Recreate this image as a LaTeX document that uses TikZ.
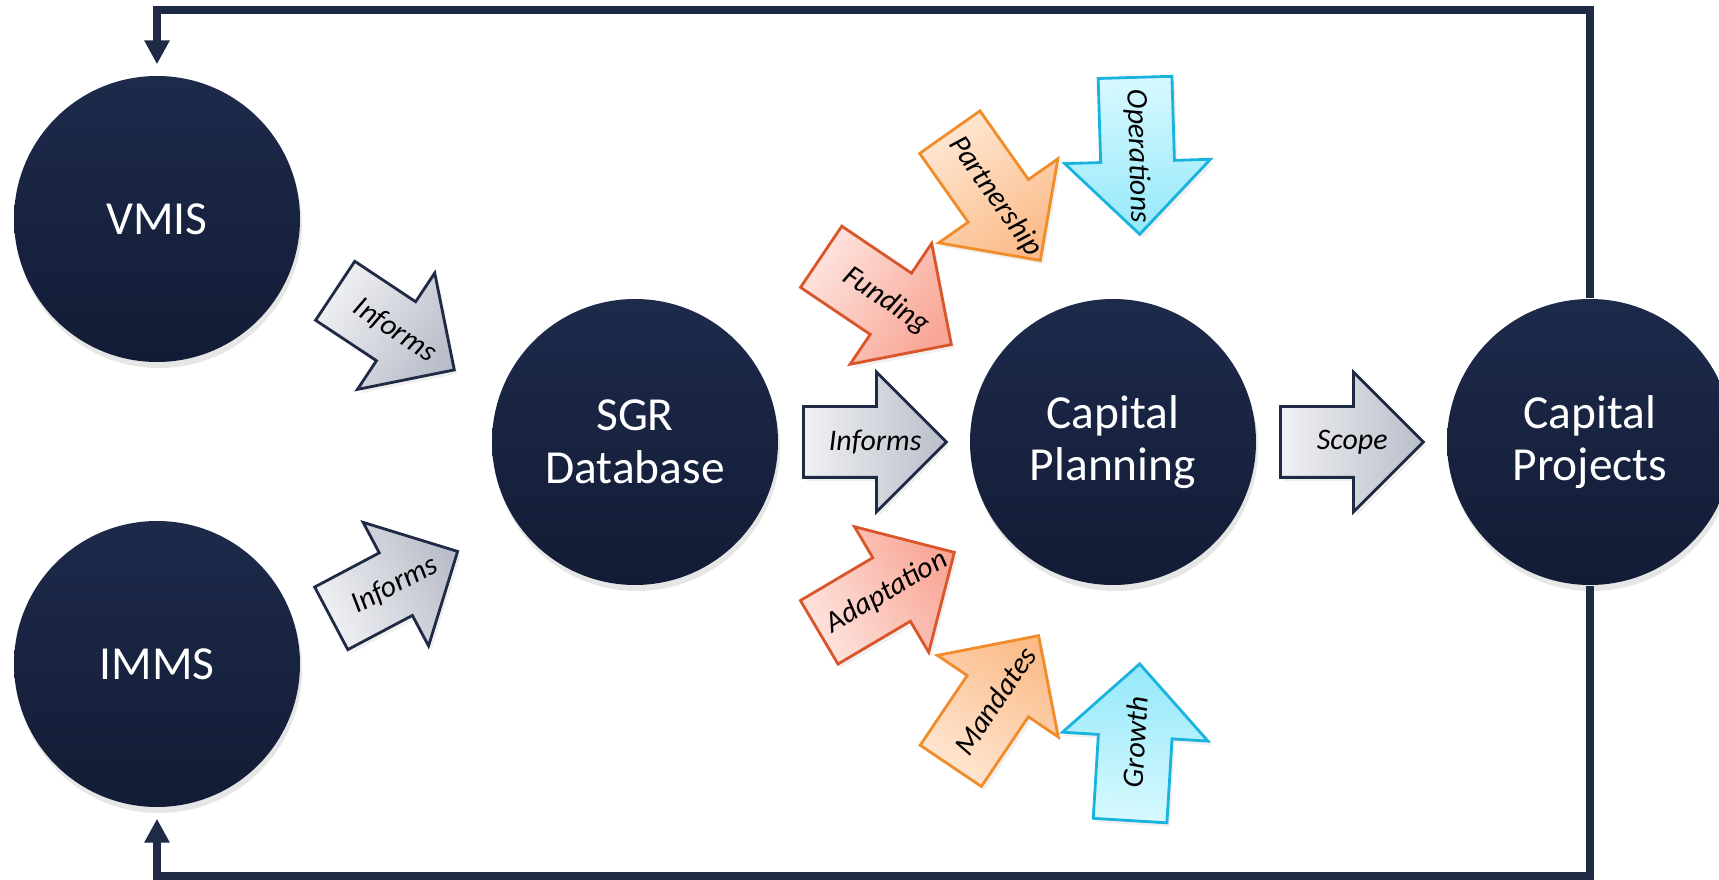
\documentclass[tikz,border=0pt]{standalone}
\usepackage{fontspec}
\setmainfont{Carlito}
\usetikzlibrary{shapes.arrows,arrows.meta,shadows,calc}
\definecolor{navy}{RGB}{29,42,74}
\definecolor{navydeep}{RGB}{19,28,54}
\definecolor{loopline}{RGB}{31,42,68}
\definecolor{greylite}{RGB}{240,241,244}
\definecolor{greydeep}{RGB}{186,190,202}
\definecolor{redline}{RGB}{217,86,43}
\definecolor{redlite}{RGB}{253,228,222}
\definecolor{reddeep}{RGB}{249,166,150}
\definecolor{orgline}{RGB}{240,140,42}
\definecolor{orglite}{RGB}{254,231,211}
\definecolor{orgdeep}{RGB}{251,188,138}
\definecolor{cyanline}{RGB}{25,179,221}
\definecolor{cyanlite}{RGB}{216,249,254}
\definecolor{cyandeep}{RGB}{148,232,250}
\tikzset{
  hub/.style      = {circle, minimum size=2.86cm, inner sep=0pt, align=center,
                     top color=navy, bottom color=navydeep, text=white,
                     font=\fontsize{13.5}{15}\selectfont,
                     drop shadow={opacity=.2, shadow xshift=.2mm, shadow yshift=-.6mm}},
  % block arrows: placed by their tail, text goes on top as a separate tag
  flow/.style     = {single arrow, anchor=tail, inner xsep=0pt, inner ysep=.34cm,
                     text height=0pt, text depth=0pt, minimum width=0pt,
                     minimum height=1.43cm, single arrow head extend=.345cm,
                     draw=loopline, line width=.8pt,
                     left color=greylite, right color=greydeep,
                     drop shadow={opacity=.12, shadow xshift=.3mm, shadow yshift=-.4mm}},
  side/.style     = {flow, inner ysep=.355cm, minimum height=1.57cm,
                     single arrow head extend=.36cm},
  flowred/.style  = {side, draw=redline, left color=redlite, right color=reddeep},
  floworg/.style  = {side, draw=orgline, left color=orglite, right color=orgdeep},
  flowcyan/.style = {side, draw=cyanline, left color=cyanlite, right color=cyandeep},
  % turn an arrow and its gradient together (light at the tail)
  dir/.style      = {rotate=#1, shading angle={#1+90}},
  tag/.style      = {inner sep=0pt, font=\itshape\fontsize{8.5}{10}\selectfont},
  loop/.style     = {draw=loopline, line width=.8mm,
                     -{Triangle[width=2.4mm, length=2.4mm]}},
}

\begin{document}
\begin{tikzpicture}
  \useasboundingbox (0,0) rectangle (17.19,8.80);

  \node[hub] (vmis)  at (1.57, 6.61) {VMIS};
  \node[hub] (imms)  at (1.57, 2.16) {IMMS};
  \node[hub] (sgr)   at (6.35, 4.38) {SGR\\Database};
  \node[hub] (cplan) at (11.13, 4.38) {Capital\\Planning};
  \node[hub] (cproj) at (15.90, 4.38) {Capital\\Projects};

  % feedback from projects back to the two inventories
  \draw[loop] (cproj.north) -- ++(0,2.88) -| ([yshift=1.1mm]vmis.north);
  \draw[loop] (cproj.south) -- ++(0,-2.90) -| ([yshift=-1.1mm]imms.south);

  \node[flow, dir=-33.6] (inf1) at (3.34, 5.90) {};
  \node[flow, dir=27.9]  (inf2) at (3.30, 2.61) {};
  \node[flow, dir=0]     (inf3) at (8.02, 4.38) {};
  \node[flow, dir=0]     (scp)  at (12.79, 4.38) {};

  \node[flowred,  dir=-34]   (fund) at (8.20, 6.24) {};
  \node[floworg,  dir=-54.8] (part) at (9.49, 7.49) {};
  \node[flowcyan, dir=-88.3] (oper) at (11.35, 8.04) {};
  \node[flowred,  dir=30.6]  (adap) at (8.18, 2.47) {};
  \node[floworg,  dir=56]    (mand) at (9.50, 1.13) {};
  \node[flowcyan, dir=86.5]  (grow) at (11.30, 0.58) {};

  \node[tag, rotate=-33.6] at ($(inf1.tail)!.5!(inf1.tip)$) {Informs};
  \node[tag, rotate=27.9]  at ($(inf2.tail)!.5!(inf2.tip)$) {Informs};
  \node[tag]               at ($(inf3.tail)!.5!(inf3.tip)$) {Informs};
  \node[tag]               at ($(scp.tail)!.5!(scp.tip)$)   {Scope};
  \node[tag, rotate=-34]   at ($(fund.tail)!.5!(fund.tip)$) {Funding};
  \node[tag, rotate=-54.8] at ($(part.tail)!.5!(part.tip)$) {Partnership};
  \node[tag, rotate=-88.3] at ($(oper.tail)!.5!(oper.tip)$) {Operations};
  \node[tag, rotate=30.6]  at ($(adap.tail)!.5!(adap.tip)$) {Adaptation};
  \node[tag, rotate=56]    at ($(mand.tail)!.5!(mand.tip)$) {Mandates};
  \node[tag, rotate=86.5]  at ($(grow.tail)!.5!(grow.tip)$) {Growth};
\end{tikzpicture}
\end{document}
